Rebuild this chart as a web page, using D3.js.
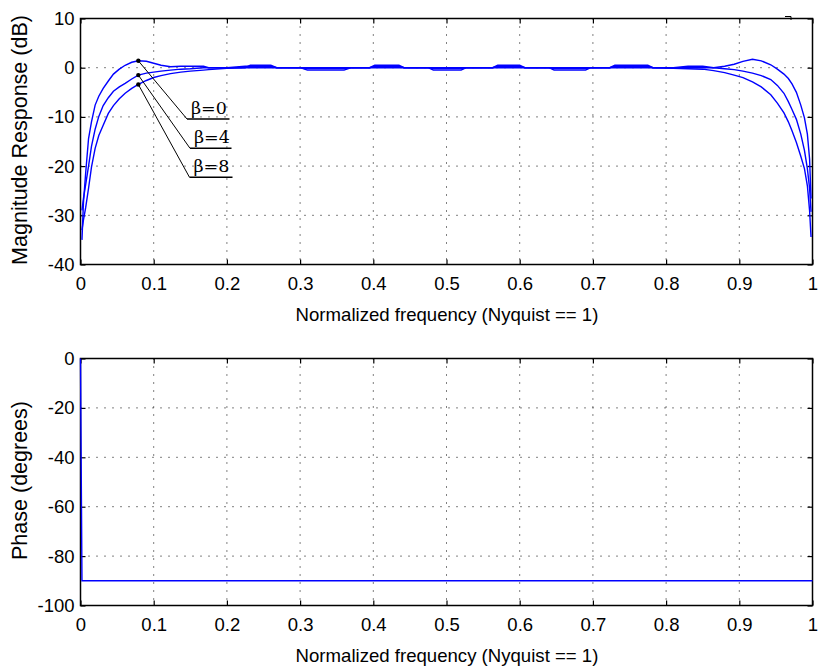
<!DOCTYPE html>
<html>
<head>
<meta charset="utf-8">
<script src="https://cdn.jsdelivr.net/npm/d3@7"></script>
<style>
  html, body { margin: 0; padding: 0; background: #fff; }
  svg { display: block; }
  text { font-family: "Liberation Sans", Arial, Helvetica, sans-serif; fill: #000; }
  .beta { font-family: "DejaVu Serif", "Liberation Serif", serif; }
</style>
</head>
<body>
<svg id="chart" width="820" height="667"></svg>
<script>
// ---------------- data ----------------
const freq = [0.002,0.004,0.007,0.011,0.015,0.020,0.025,0.031,0.038,0.045,0.053,0.061,0.070,0.079,0.090,0.100,0.110,0.123,0.137,0.150,0.168,0.175,0.200,0.225,0.232,0.260,0.268,0.300,0.310,0.360,0.370,0.395,0.402,0.435,0.442,0.475,0.482,0.520,0.527,0.563,0.570,0.600,0.607,0.640,0.647,0.690,0.697,0.723,0.730,0.775,0.782,0.810,0.830,0.850,0.865,0.880,0.893,0.905,0.918,0.930,0.943,0.952,0.961,0.967,0.972,0.978,0.984,0.989,0.993,0.996,0.998];
const magBeta0 = [-35,-27.5,-21.5,-14.4,-11,-7.6,-5.8,-4.2,-2.7,-1.3,-0.3,0.5,1.1,1.4,1.3,0.9,0.5,0.2,0.3,0.3,0.3,0,0,0,0.5,0.5,0,0,-0.5,-0.5,0,0,0.5,0.5,0,0,-0.5,-0.5,0,0,0.5,0.5,0,0,-0.5,-0.5,0,0,0.5,0.5,0,0,0,0,0,0.3,0.7,1.3,1.7,1.4,0.6,-0.3,-1.3,-2.2,-3.3,-5.0,-7.6,-10.2,-13.5,-18.5,-26.6];
const magBeta4 = [-29,-26.6,-23.8,-20,-16,-12.5,-9.9,-7.7,-6.1,-4.8,-3.9,-3.2,-2.3,-1.5,-1.1,-0.9,-0.7,-0.5,-0.3,-0.2,0,0,0,0.3,0.3,0.3,0,0,-0.2,-0.2,0,0,0.3,0.3,0,0,-0.2,-0.2,0,0,0.3,0.3,0,0,-0.2,-0.2,0,0,0.3,0.3,0,0,0.3,0.3,0,-0.2,-0.4,-0.7,-1.1,-1.6,-2.4,-3.6,-5.2,-6.9,-8.5,-10.5,-13.5,-16.8,-20.5,-24.5,-29.3];
const magBeta8 = [-33,-31,-28.5,-24.5,-20.2,-16.4,-13.8,-11.7,-9.3,-7.7,-6.3,-5.2,-4.2,-3.4,-2.6,-2.0,-1.6,-1.2,-0.9,-0.7,-0.5,-0.4,-0.1,0,0,0,0,0,0,0,0,0,0,0,0,0,0,0,0,0,0,0,0,0,0,0,0,0,0,0,0,-0.1,-0.2,-0.3,-0.6,-1.0,-1.5,-2.0,-2.9,-3.9,-5.5,-7.2,-9.2,-11,-12.8,-15.2,-18,-20.5,-24,-29,-34.4];
const phaseFreq = [0, 0.002, 1];
const phaseDeg = [0, -90, -90];
const betaLabels = ["β=0", "β=4", "β=8"];
const betaMarkFreq = [0.079, 0.079, 0.079];
const betaMarkDb = [1.4, -1.5, -3.4];
const xTicks = [0,0.1,0.2,0.3,0.4,0.5,0.6,0.7,0.8,0.9,1];
const magTicks = [10,0,-10,-20,-30,-40];
const phaseTicks = [0,-20,-40,-60,-80,-100];
const xLabel = "Normalized frequency (Nyquist == 1)";
const magLabel = "Magnitude Response (dB)";
const phaseLabel = "Phase (degrees)";

// ---------------- layout ----------------
const svg = d3.select("#chart");
const L = 80.5, R = 812.5;
const x = d3.scaleLinear().domain([0, 1]).range([L, R]);
const yMag = d3.scaleLinear().domain([-40, 10]).range([264.5, 18.5]);
const yPh = d3.scaleLinear().domain([-100, 0]).range([605.5, 358.5]);
const TICK_FS = 18.5;
const fmt = d => String(d);

function panel(y, yTicks, ylab, xlabY) {
  const g = svg.append("g");
  const [y0, y1] = y.range();
  // grid
  g.selectAll(".vg").data(xTicks.slice(1, -1)).join("line")
    .attr("x1", d => x(d)).attr("x2", d => x(d)).attr("y1", y1).attr("y2", y0)
    .attr("stroke", "#000").attr("stroke-width", 1).attr("stroke-dasharray", "1,7");
  g.selectAll(".hg").data(yTicks.slice(1, -1)).join("line")
    .attr("y1", d => y(d)).attr("y2", d => y(d)).attr("x1", L).attr("x2", R)
    .attr("stroke", "#000").attr("stroke-width", 1).attr("stroke-dasharray", "1,7");
  // axes with inward ticks
  const ax = (gen, tr) => g.append("g").attr("transform", tr).call(gen)
    .call(s => s.select(".domain").remove())
    .call(s => s.selectAll("line").attr("stroke", "#000").attr("stroke-width", 1.2));
  const bx = ax(d3.axisBottom(x).tickValues(xTicks).tickSize(-5).tickPadding(12).tickFormat(fmt), `translate(0,${y0})`);
  bx.selectAll("text").attr("font-size", TICK_FS).attr("font-family", "Liberation Sans, Arial, sans-serif").attr("fill", "#000");
  ax(d3.axisTop(x).tickValues(xTicks).tickSize(-5).tickFormat(""), `translate(0,${y1})`);
  const ly = ax(d3.axisLeft(y).tickValues(yTicks).tickSize(-5).tickPadding(6).tickFormat(fmt), `translate(${L},0)`);
  ly.selectAll("text").attr("font-size", TICK_FS).attr("font-family", "Liberation Sans, Arial, sans-serif").attr("fill", "#000");
  ax(d3.axisRight(y).tickValues(yTicks).tickSize(-5).tickFormat(""), `translate(${R},0)`);
  // frame
  g.append("rect").attr("x", L).attr("y", y1).attr("width", R - L).attr("height", y0 - y1)
    .attr("fill", "none").attr("stroke", "#000").attr("stroke-width", 1.5);
  // labels
  g.append("text").attr("x", 447).attr("y", xlabY).attr("text-anchor", "middle")
    .attr("font-size", 18.6).text(xLabel);
  g.append("text").attr("transform", `translate(27,${(y0 + y1) / 2 - 1.5}) rotate(-90)`)
    .attr("text-anchor", "middle").attr("font-size", 21.5).text(ylab);
  return g;
}

panel(yMag, magTicks, magLabel, 321);
panel(yPh, phaseTicks, phaseLabel, 662);

// magnitude curves
const line = d3.line().x(d => x(d[0])).y(d => yMag(d[1]));
[magBeta0, magBeta4, magBeta8].forEach(m => {
  svg.append("path").datum(freq.map((f, i) => [f, m[i]]))
    .attr("d", line).attr("fill", "none").attr("stroke", "#0000ff").attr("stroke-width", 1.4);
});

// phase curve
const pline = d3.line().x(d => x(d[0])).y(d => yPh(d[1]));
svg.append("path").datum(phaseFreq.map((f, i) => [f, phaseDeg[i]]))
  .attr("d", pline).attr("fill", "none").attr("stroke", "#0000ff").attr("stroke-width", 1.4);

// beta annotations
const annY = [119, 148.3, 177.3];
const annX0 = [187, 190, 189.5];
const annX1 = [229.5, 231.5, 232.5];
betaLabels.forEach((t, i) => {
  const mx = x(betaMarkFreq[i]), my = yMag(betaMarkDb[i]);
  svg.append("line").attr("x1", mx).attr("y1", my).attr("x2", annX0[i]).attr("y2", annY[i])
    .attr("stroke", "#000").attr("stroke-width", 1);
  svg.append("line").attr("x1", annX0[i]).attr("y1", annY[i]).attr("x2", annX1[i]).attr("y2", annY[i])
    .attr("stroke", "#000").attr("stroke-width", 1.4);
  svg.append("circle").attr("cx", mx).attr("cy", my).attr("r", 2.2).attr("fill", "#000");
  svg.append("text").attr("class", "beta").attr("x", annX0[i] + 4).attr("y", annY[i] - 5.5)
    .attr("font-size", 17.5).text(t);
});

// small corner mark (top right)
svg.append("path").attr("d", "M785,16.5 H791 V20").attr("fill", "none").attr("stroke", "#000").attr("stroke-width", 1);
</script>
</body>
</html>
